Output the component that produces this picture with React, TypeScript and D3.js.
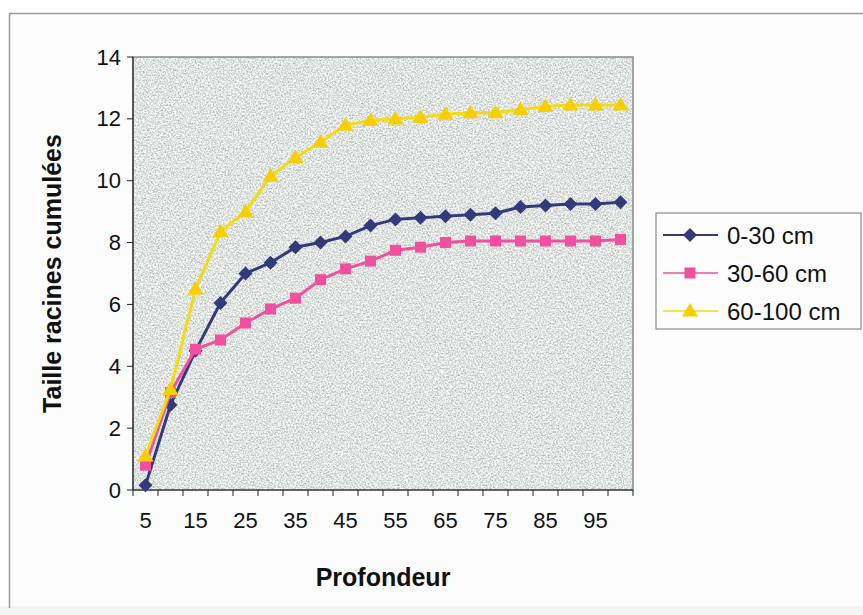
import React from "react";
import * as d3 from "d3";

// Depth classes (cm) along the horizontal axis
const depths = [5, 10, 15, 20, 25, 30, 35, 40, 45, 50, 55, 60, 65, 70, 75, 80, 85, 90, 95, 100];
// Cumulated root size per soil layer
const layer0to30 = [0.15, 2.75, 4.5, 6.05, 7.0, 7.35, 7.85, 8.0, 8.2, 8.55, 8.75, 8.8, 8.85, 8.9, 8.95, 9.15, 9.2, 9.25, 9.25, 9.3];
const layer30to60 = [0.8, 3.15, 4.55, 4.85, 5.4, 5.85, 6.2, 6.8, 7.15, 7.4, 7.75, 7.85, 8.0, 8.05, 8.05, 8.05, 8.05, 8.05, 8.05, 8.1];
const layer60to100 = [1.1, 3.25, 6.5, 8.35, 9.0, 10.15, 10.75, 11.25, 11.8, 11.95, 12.0, 12.05, 12.15, 12.2, 12.2, 12.3, 12.4, 12.45, 12.45, 12.45];
const seriesNames = ["0-30 cm", "30-60 cm", "60-100 cm"];
const yTicks = [0, 2, 4, 6, 8, 10, 12, 14];
const xLabelDepths = [5, 15, 25, 35, 45, 55, 65, 75, 85, 95];

const W = 863;
const H = 615;
const plot = { left: 133, right: 633, top: 57, bottom: 490 };

const styles = [
  { line: "#333a7c", fill: "#333a7c", shape: "diamond", legendWidth: 2 },
  { line: "#f0509c", fill: "#f0509c", shape: "square", legendWidth: 1.5 },
  { line: "#f2dc10", fill: "#f7cf00", shape: "triangle", legendWidth: 1.5 },
];

function Marker({ shape, x, y, color }: { shape: string; x: number; y: number; color: string }) {
  if (shape === "diamond") {
    const r = 7;
    return <path d={`M${x},${y - r}L${x + r},${y}L${x},${y + r}L${x - r},${y}Z`} fill={color} />;
  }
  if (shape === "square") {
    const s = 11;
    return <rect x={x - s / 2} y={y - s / 2} width={s} height={s} fill={color} />;
  }
  const r = 8;
  return <path d={`M${x},${y - r}L${x + r},${y + r * 0.7}L${x - r},${y + r * 0.7}Z`} fill={color} />;
}

export default function App() {
  const x = d3.scaleBand<number>().domain(depths).range([plot.left, plot.right]).padding(0);
  const y = d3.scaleLinear().domain([0, 14]).range([plot.bottom, plot.top]);
  const cx = (d: number) => (x(d) as number) + x.bandwidth() / 2;

  const data = [layer0to30, layer30to60, layer60to100];
  const line = d3
    .line<number>()
    .x((_, i) => cx(depths[i]))
    .y((v) => y(v));

  const boundaries = [...depths.map((d) => x(d) as number), plot.right];
  const font = "'Liberation Sans', Arial, sans-serif";

  return (
    <div style={{ position: "absolute", left: 0, top: 0 }}>
      <svg width={W} height={H} style={{ display: "block" }}>
        <defs>
          <filter id="granite" x="0" y="0" width="100%" height="100%" colorInterpolationFilters="sRGB">
            <feTurbulence type="fractalNoise" baseFrequency="0.6" numOctaves={2} seed={7} result="n" />
            <feColorMatrix
              in="n"
              type="matrix"
              values="0.55 0 0 0 0.6  0.55 0 0 0 0.62  0.55 0 0 0 0.61  0 0 0 0 1"
            />
          </filter>
        </defs>

        {/* page and chart area */}
        <rect x={0} y={0} width={W} height={H} fill="#ffffff" />
        <rect x={9} y={13} width={W} height={593} fill="#fcfcfc" />
        <rect x={0} y={606} width={W} height={H - 606} fill="#f3f3f3" />
        <line x1={9.5} y1={13} x2={9.5} y2={608} stroke="#9a9a9a" strokeWidth={1.5} />
        <line x1={9} y1={13.5} x2={W} y2={13.5} stroke="#9a9a9a" strokeWidth={1.5} />

        {/* plot area */}
        <rect
          x={plot.left}
          y={plot.top}
          width={plot.right - plot.left}
          height={plot.bottom - plot.top}
          filter="url(#granite)"
        />
        <rect
          x={plot.left}
          y={plot.top}
          width={plot.right - plot.left}
          height={plot.bottom - plot.top}
          fill="none"
          stroke="#8a8a8a"
          strokeWidth={1.5}
        />

        {/* y axis */}
        <line x1={plot.left} y1={plot.top} x2={plot.left} y2={plot.bottom} stroke="#222" strokeWidth={1.2} />
        {yTicks.map((t) => (
          <g key={t}>
            <line x1={plot.left - 6} x2={plot.left} y1={y(t)} y2={y(t)} stroke="#222" strokeWidth={1} />
            <text
              x={plot.left - 12}
              y={y(t)}
              textAnchor="end"
              dominantBaseline="central"
              fontFamily={font}
              fontSize={22}
              fill="#111"
            >
              {t}
            </text>
          </g>
        ))}

        {/* x axis */}
        <line x1={plot.left} y1={plot.bottom} x2={plot.right} y2={plot.bottom} stroke="#222" strokeWidth={1.2} />
        {boundaries.map((b, i) => (
          <line key={i} x1={b} x2={b} y1={plot.bottom} y2={plot.bottom + 6} stroke="#222" strokeWidth={1} />
        ))}
        {xLabelDepths.map((d) => (
          <text
            key={d}
            x={cx(d)}
            y={520}
            textAnchor="middle"
            dominantBaseline="central"
            fontFamily={font}
            fontSize={22}
            fill="#111"
          >
            {d}
          </text>
        ))}

        {/* axis titles */}
        <text
          x={(plot.left + plot.right) / 2}
          y={577}
          textAnchor="middle"
          dominantBaseline="central"
          fontFamily={font}
          fontSize={25}
          fontWeight="bold"
          fill="#111"
        >
          Profondeur
        </text>
        <text
          transform={`translate(52,${(plot.top + plot.bottom) / 2}) rotate(-90)`}
          textAnchor="middle"
          dominantBaseline="central"
          fontFamily={font}
          fontSize={25}
          fontWeight="bold"
          fill="#111"
        >
          Taille racines cumulées
        </text>

        {/* series */}
        {data.map((vals, s) => (
          <g key={s}>
            <path d={line(vals) as string} fill="none" stroke={styles[s].line} strokeWidth={3} />
            {vals.map((v, i) => (
              <Marker key={i} shape={styles[s].shape} x={cx(depths[i])} y={y(v)} color={styles[s].fill} />
            ))}
          </g>
        ))}

        {/* legend */}
        <rect x={656} y={213} width={205} height={116} fill="#fdfdfd" stroke="#8a8a8a" strokeWidth={1.2} />
        {seriesNames.map((name, s) => {
          const ly = 235 + s * 38;
          return (
            <g key={name}>
              <line x1={663} x2={718} y1={ly} y2={ly} stroke={styles[s].line} strokeWidth={styles[s].legendWidth} />
              <Marker shape={styles[s].shape} x={690} y={ly} color={styles[s].fill} />
              <text x={727} y={ly} dominantBaseline="central" fontFamily={font} fontSize={24} fill="#111">
                {name}
              </text>
            </g>
          );
        })}
      </svg>
    </div>
  );
}
